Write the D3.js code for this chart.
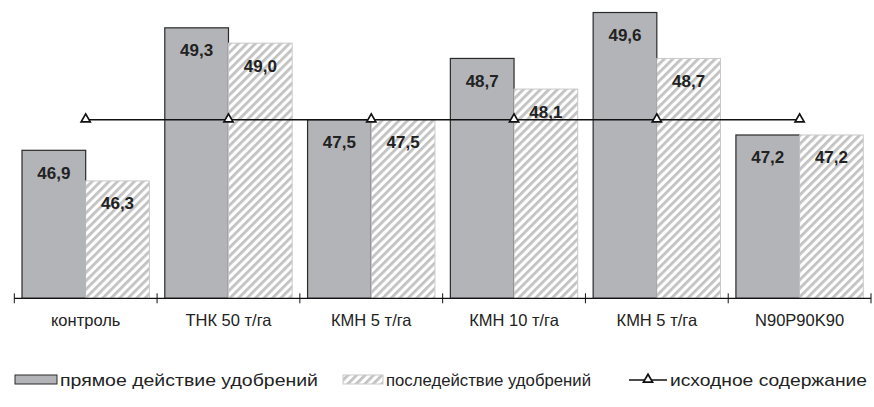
<!DOCTYPE html>
<html><head><meta charset="utf-8">
<script src="https://cdn.jsdelivr.net/npm/d3@7"></script>
<style>body{margin:0;background:#fff}svg{display:block}</style>
</head><body>
<svg id="c" width="874" height="407"></svg>
<script>
const categories = ["контроль", "ТНК 50 т/га", "КМН 5 т/га", "КМН 10 т/га", "КМН 5 т/га", "N90P90K90"];
const directValues = [46.9, 49.3, 47.5, 48.7, 49.6, 47.2];
const afterValues = [46.3, 49.0, 47.5, 48.1, 48.7, 47.2];
const initialValues = [47.5, 47.5, 47.5, 47.5, 47.5, 47.5];
const seriesNames = ["прямое действие удобрений", "последействие удобрений", "исходное содержание"];

const svg = d3.select("#c");
const font = "Arial, 'Liberation Sans', sans-serif";

const defs = svg.append("defs");
const pat = defs.append("pattern").attr("id", "hatch").attr("patternUnits", "userSpaceOnUse")
  .attr("width", 6).attr("height", 6).attr("patternTransform", "rotate(45)");
pat.append("rect").attr("width", 6).attr("height", 6).attr("fill", "#fff");
pat.append("rect").attr("x", 0).attr("width", 2.8).attr("height", 6).attr("fill", "#c2c2c2");

const x = d3.scaleBand().domain(d3.range(categories.length)).range([14.3, 871]).padding(0);
const inner = d3.scaleBand().domain([0, 1]).range([0, x.bandwidth()]).paddingOuter(0.121).paddingInner(0);
const y = d3.scaleLinear().domain([44, 50]).range([298.3, -7.9]);

const g = svg.append("g");
const bars = [directValues, afterValues];
bars.forEach((vals, si) => {
  g.selectAll(null).data(vals).join("rect")
    .attr("x", (d, i) => x(i) + inner(si))
    .attr("y", d => y(d))
    .attr("width", inner.bandwidth())
    .attr("height", d => y(44) - y(d))
    .attr("fill", si === 0 ? "#b3b4b8" : "url(#hatch)")
    .attr("stroke", si === 0 ? "#2a2a2a" : "#c9c9c9")
    .attr("stroke-width", si === 0 ? 1.2 : 1);
});
bars.forEach((vals, si) => {
  g.selectAll(null).data(vals).join("text")
    .attr("x", (d, i) => x(i) + inner(si) + inner.bandwidth() / 2)
    .attr("y", d => y(d) + 28.5)
    .attr("text-anchor", "middle")
    .attr("font-family", font).attr("font-weight", "bold").attr("font-size", 17)
    .attr("fill", "#222")
    .text(d => d.toFixed(1).replace(".", ","));
});

// axis
const axisY = y(44);
g.append("line").attr("x1", x.range()[0]).attr("x2", x.range()[1]).attr("y1", axisY).attr("y2", axisY)
  .attr("stroke", "#111").attr("stroke-width", 1.2);
const bounds = d3.range(categories.length + 1).map(i => x.range()[0] + i * x.step());
g.selectAll(null).data(bounds).join("line")
  .attr("x1", d => d).attr("x2", d => d).attr("y1", axisY - 5).attr("y2", axisY + 5)
  .attr("stroke", "#111").attr("stroke-width", 1);
g.selectAll(null).data(categories).join("text")
  .attr("x", (d, i) => x(i) + x.bandwidth() / 2).attr("y", 326)
  .attr("text-anchor", "middle").attr("font-family", font).attr("font-size", 16.5).attr("fill", "#222")
  .text(d => d);

// line
const line = d3.line().x((d, i) => x(i) + x.bandwidth() / 2).y(d => y(d));
g.append("path").attr("d", line(initialValues)).attr("fill", "none").attr("stroke", "#111").attr("stroke-width", 1.5);
const tri = d3.symbol().type(d3.symbolTriangle).size(36);
g.selectAll(null).data(initialValues).join("path")
  .attr("d", tri)
  .attr("transform", (d, i) => `translate(${x(i) + x.bandwidth() / 2},${y(d) - 0.5})`)
  .attr("fill", "#fff").attr("stroke", "#111").attr("stroke-width", 1.7);

// legend
const ly = 380;
const leg = svg.append("g");
function legText(xp, txt, len) {
  leg.append("text").attr("x", xp).attr("y", ly + 6).attr("font-family", font).attr("font-size", 17)
    .attr("fill", "#222").attr("textLength", len).attr("lengthAdjust", "spacingAndGlyphs").text(txt);
}
leg.append("rect").attr("x", 15).attr("y", ly - 5).attr("width", 42).attr("height", 9)
  .attr("fill", "#b3b4b8").attr("stroke", "#2a2a2a").attr("stroke-width", 1);
legText(60, seriesNames[0], 258);
leg.append("rect").attr("x", 343).attr("y", ly - 5).attr("width", 40).attr("height", 9)
  .attr("fill", "url(#hatch)").attr("stroke", "#c9c9c9").attr("stroke-width", 1);
legText(386, seriesNames[1], 205);
leg.append("line").attr("x1", 629).attr("x2", 667).attr("y1", ly).attr("y2", ly).attr("stroke", "#111").attr("stroke-width", 1.5);
leg.append("path").attr("d", tri).attr("transform", `translate(648,${ly - 0.5})`)
  .attr("fill", "#fff").attr("stroke", "#111").attr("stroke-width", 1.7);
legText(670, seriesNames[2], 197);
</script>
</body></html>
